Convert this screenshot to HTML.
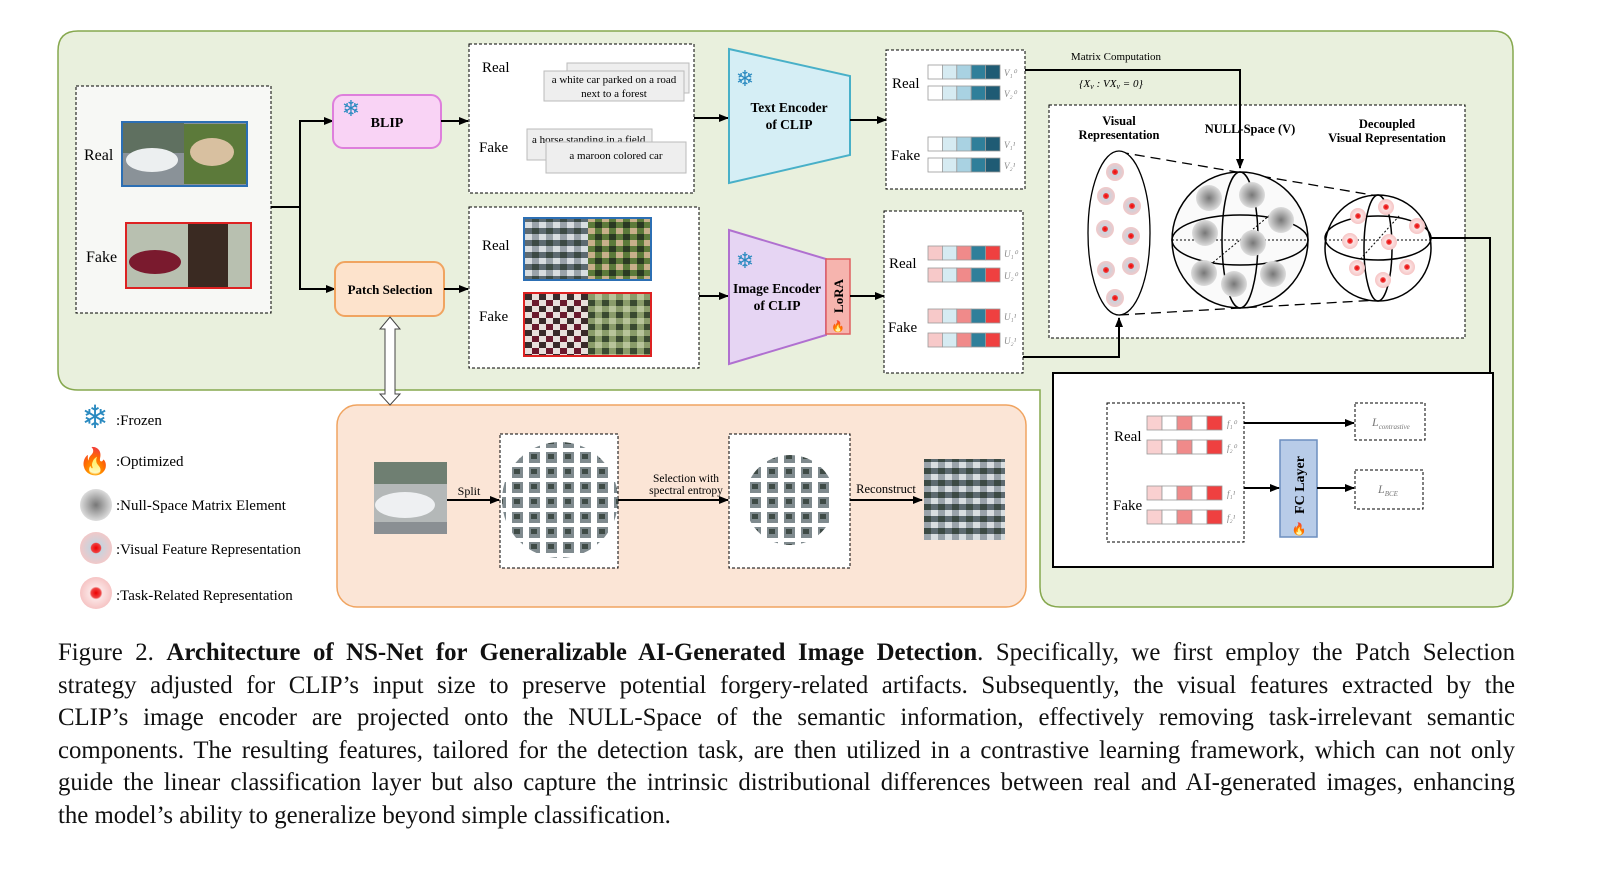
<!DOCTYPE html>
<html><head><meta charset="utf-8"><style>
html,body{margin:0;padding:0;background:#fff;width:1598px;height:878px;overflow:hidden}
svg{position:absolute;left:0;top:0}
svg text{font-family:"Liberation Serif",serif}
.cap{position:absolute;left:58px;top:637px;width:1457px;font-family:"Liberation Serif",serif;font-size:24.8px;line-height:32.5px;color:#111}
.cap div{text-align:justify;text-align-last:justify;white-space:nowrap}
.cap div.l{text-align-last:left}
</style></head><body>
<svg width="1598" height="640" viewBox="0 0 1598 640">
<defs>
<marker id="a" markerWidth="10" markerHeight="8" refX="9" refY="4" orient="auto" markerUnits="userSpaceOnUse"><path d="M0,0 L10,4 L0,8 z" fill="#000"/></marker>
<pattern id="gray" width="14" height="12" patternUnits="userSpaceOnUse"><rect width="14" height="12" fill="#9aa3aa"/><rect width="7" height="6" fill="#3c4a44"/><rect x="7" y="6" width="7" height="6" fill="#d8dde0"/><rect x="7" width="7" height="6" fill="#5d6a70"/></pattern>
<pattern id="green" width="14" height="12" patternUnits="userSpaceOnUse"><rect width="14" height="12" fill="#5c7a3a"/><rect width="7" height="6" fill="#c8b08a"/><rect x="7" y="6" width="7" height="6" fill="#2b3a22"/></pattern>
<pattern id="maroon" width="14" height="12" patternUnits="userSpaceOnUse"><rect width="14" height="12" fill="#e8e0dc"/><rect width="7" height="6" fill="#6a1a2e"/><rect x="7" y="6" width="7" height="6" fill="#3a2a2a"/></pattern>
<pattern id="lgreen" width="14" height="12" patternUnits="userSpaceOnUse"><rect width="14" height="12" fill="#8a9c6a"/><rect width="7" height="6" fill="#3a4a30"/><rect x="7" y="6" width="7" height="6" fill="#b8c49a"/></pattern>
<pattern id="scat" width="17" height="15" patternUnits="userSpaceOnUse"><rect x="2" y="2" width="11" height="11" fill="#7f8a8e"/><rect x="4" y="4" width="6" height="5" fill="#3f4b46"/></pattern>
<radialGradient id="gnull"><stop offset="0" stop-color="#777"/><stop offset="1" stop-color="#ddd"/></radialGradient>
<radialGradient id="gvis"><stop offset="0" stop-color="#e00"/><stop offset=".3" stop-color="#e44"/><stop offset=".35" stop-color="#c9d3dd"/><stop offset="1" stop-color="#f2c8c8"/></radialGradient>
<radialGradient id="gtask"><stop offset="0" stop-color="#e00"/><stop offset=".3" stop-color="#e44"/><stop offset=".4" stop-color="#fbe4e4"/><stop offset="1" stop-color="#f6c4c4"/></radialGradient>
<clipPath id="c1"><circle cx="560" cy="500" r="58"/></clipPath>
<clipPath id="c2"><circle cx="790" cy="500" r="45"/></clipPath>
<g id="vb" stroke="#999" stroke-width=".8"><rect x="928" y="0" width="14.4" height="14" fill="#fff"/><rect x="942.4" width="14.4" height="14" fill="#d6ebf2"/><rect x="956.8" width="14.4" height="14" fill="#a9d2e2"/><rect x="971.2" width="14.4" height="14" fill="#2f7f9a"/><rect x="985.6" width="14.4" height="14" fill="#1f5b74"/></g>
<g id="ub" stroke="#999" stroke-width=".8"><rect x="928" y="0" width="14.4" height="14" fill="#f7c9c9"/><rect x="942.4" width="14.4" height="14" fill="#d6ebf2"/><rect x="956.8" width="14.4" height="14" fill="#f08a8a"/><rect x="971.2" width="14.4" height="14" fill="#2f7f9a"/><rect x="985.6" width="14.4" height="14" fill="#ef4040"/></g>
<g id="fb" stroke="#999" stroke-width=".8"><rect x="1147" y="0" width="15" height="14" fill="#f9d0d0"/><rect x="1162" width="15" height="14" fill="#fff"/><rect x="1177" width="15" height="14" fill="#f08a8a"/><rect x="1192" width="15" height="14" fill="#fff"/><rect x="1207" width="15" height="14" fill="#ef4040"/></g>
</defs>
<path d="M78,31 H1493 Q1513,31 1513,51 V587 Q1513,607 1493,607 H1060 Q1040,607 1040,587 V390 H78 Q58,390 58,370 V51 Q58,31 78,31 Z" fill="#e9f0dd" stroke="#86a84e" stroke-width="1.5"/>
<rect x="76" y="86" width="195" height="227" fill="#f7f8f5" stroke="#000" stroke-dasharray="3,2"/>
<text x="84" y="160" font-size="16">Real</text>
<rect x="122" y="122" width="125" height="64" fill="#8a9298" stroke="#2c6fb4" stroke-width="2"/>
<rect x="123" y="123" width="61" height="30" fill="#5f7060"/>
<rect x="184" y="124" width="62" height="60" fill="#5c7a3a"/><ellipse cx="212" cy="152" rx="22" ry="14" fill="#d8c0a0"/>
<ellipse cx="152" cy="160" rx="26" ry="12" fill="#eceff0"/>
<text x="86" y="262" font-size="16">Fake</text>
<rect x="126" y="223" width="125" height="65" fill="#b8c0b0" stroke="#d22" stroke-width="2"/>
<ellipse cx="155" cy="262" rx="26" ry="12" fill="#7a1a2e"/><rect x="188" y="224" width="40" height="63" fill="#3a2a22"/>
<path d="M271,207 H300 V121 H333 M300,207 V289 H335" fill="none" stroke="#000" stroke-width="2"/>
<path d="M316,121 H333" stroke="#000" stroke-width="2" marker-end="url(#a)"/>
<path d="M318,289 H335" stroke="#000" stroke-width="2" marker-end="url(#a)"/>
<rect x="333" y="95" width="108" height="53" rx="10" fill="#f9d3f5" stroke="#de7fdc" stroke-width="2"/>
<text x="351" y="116" font-size="22" fill="#2a8ac0" text-anchor="middle">❄</text>
<text x="387" y="127" font-size="14" font-weight="bold" text-anchor="middle">BLIP</text>
<rect x="335" y="262" width="109" height="54" rx="10" fill="#fde3cc" stroke="#f0a460" stroke-width="2"/>
<text x="390" y="294" font-size="13" font-weight="bold" text-anchor="middle">Patch Selection</text>
<path d="M441,121 H468" stroke="#000" stroke-width="2" marker-end="url(#a)"/>
<path d="M444,289 H468" stroke="#000" stroke-width="2" marker-end="url(#a)"/>
<rect x="469" y="44" width="225" height="149" fill="#fff" stroke="#000" stroke-dasharray="3,2"/>
<text x="482" y="72" font-size="15">Real</text>
<rect x="567" y="63" width="122" height="30" fill="#eee" stroke="#bbb"/>
<rect x="544" y="71" width="140" height="30" fill="#eee" stroke="#bbb"/>
<text x="614" y="83" font-size="11" text-anchor="middle">a white car parked on a road</text>
<text x="614" y="97" font-size="11" text-anchor="middle">next to a forest</text>
<text x="479" y="152" font-size="15">Fake</text>
<rect x="527" y="129" width="125" height="31" fill="#eee" stroke="#bbb"/>
<text x="532" y="143" font-size="11">a horse standing in a field</text>
<rect x="546" y="142" width="140" height="31" fill="#eee" stroke="#bbb"/>
<text x="616" y="159" font-size="11" text-anchor="middle">a maroon colored car</text>
<rect x="469" y="207" width="230" height="161" fill="#fff" stroke="#000" stroke-dasharray="3,2"/>
<text x="482" y="250" font-size="15">Real</text>
<rect x="524" y="218" width="64" height="62" fill="url(#gray)"/><rect x="588" y="218" width="63" height="62" fill="url(#green)"/>
<rect x="524" y="218" width="127" height="62" fill="none" stroke="#2c6fb4" stroke-width="2"/>
<text x="479" y="321" font-size="15">Fake</text>
<rect x="524" y="293" width="64" height="63" fill="url(#maroon)"/><rect x="588" y="293" width="63" height="63" fill="url(#lgreen)"/>
<rect x="524" y="293" width="127" height="63" fill="none" stroke="#d22" stroke-width="2"/>
<path d="M694,118 H728" stroke="#000" stroke-width="2" marker-end="url(#a)"/>
<path d="M699,296 H728" stroke="#000" stroke-width="2" marker-end="url(#a)"/>
<path d="M729,49 L850,76 V155 L729,183 Z" fill="#d5eef5" stroke="#48b0c8" stroke-width="2"/>
<text x="745" y="86" font-size="22" fill="#2a8ac0" text-anchor="middle">❄</text>
<text x="789" y="112" font-size="13.5" font-weight="bold" text-anchor="middle">Text Encoder</text>
<text x="789" y="129" font-size="13.5" font-weight="bold" text-anchor="middle">of CLIP</text>
<path d="M729,230 L826,259 V335 L729,364 Z" fill="#e6d5f3" stroke="#b070d0" stroke-width="2"/>
<text x="745" y="268" font-size="22" fill="#2a8ac0" text-anchor="middle">❄</text>
<text x="777" y="293" font-size="13.5" font-weight="bold" text-anchor="middle">Image Encoder</text>
<text x="777" y="310" font-size="13.5" font-weight="bold" text-anchor="middle">of CLIP</text>
<rect x="826" y="259" width="24" height="75" fill="#f6b4ae" stroke="#e06060" stroke-width="1.5"/>
<text transform="translate(843,296) rotate(-90)" font-size="13" font-weight="bold" text-anchor="middle">LoRA</text>
<text x="838" y="330" font-size="11" text-anchor="middle" fill="#e85a10">🔥</text>
<path d="M850,120 H886" stroke="#000" stroke-width="2" marker-end="url(#a)"/>
<path d="M850,296 H884" stroke="#000" stroke-width="2" marker-end="url(#a)"/>
<rect x="886" y="50" width="139" height="139" fill="#fff" stroke="#000" stroke-dasharray="3,2"/>
<text x="892" y="88" font-size="15">Real</text><text x="891" y="160" font-size="15">Fake</text>
<use href="#vb" y="65"/><use href="#vb" y="86"/><use href="#vb" y="137"/><use href="#vb" y="158"/>
<g font-size="9" fill="#888" font-style="italic"><text x="1004" y="76">V₁⁰</text><text x="1004" y="97">V₂⁰</text><text x="1004" y="148">V₁¹</text><text x="1004" y="169">V₂¹</text></g>
<rect x="884" y="211" width="139" height="162" fill="#fff" stroke="#000" stroke-dasharray="3,2"/>
<text x="889" y="268" font-size="15">Real</text><text x="888" y="332" font-size="15">Fake</text>
<use href="#ub" y="246"/><use href="#ub" y="268"/><use href="#ub" y="309"/><use href="#ub" y="333"/>
<g font-size="9" fill="#888" font-style="italic"><text x="1004" y="257">U₁⁰</text><text x="1004" y="279">U₂⁰</text><text x="1004" y="320">U₁¹</text><text x="1004" y="344">U₂¹</text></g>
<text x="1116" y="60" font-size="11" text-anchor="middle">Matrix Computation</text>
<text x="1111" y="87" font-size="11" text-anchor="middle" font-style="italic">{X<tspan font-size="8" dy="2">v</tspan><tspan dy="-2"> : VX</tspan><tspan font-size="8" dy="2">v</tspan><tspan dy="-2"> = 0}</tspan></text>
<rect x="1049" y="105" width="416" height="233" fill="#fff" stroke="#000" stroke-dasharray="3,2"/>
<path d="M1025,70 H1240 V168" fill="none" stroke="#000" stroke-width="2" marker-end="url(#a)"/>
<g font-size="12.5" font-weight="bold" text-anchor="middle">
<text x="1119" y="125">Visual</text><text x="1119" y="139">Representation</text>
<text x="1250" y="133">NULL-Space (V)</text>
<text x="1387" y="128">Decoupled</text><text x="1387" y="142">Visual Representation</text></g>
<path d="M1119,152 L1378,196 M1119,315 L1378,300" stroke="#000" stroke-width="1.3" stroke-dasharray="10,6"/>
<ellipse cx="1119" cy="233" rx="31" ry="82" fill="#fff" stroke="#000" stroke-width="1.3"/>
<g fill="url(#gvis)"><circle cx="1115" cy="172" r="9"/><circle cx="1106" cy="196" r="9"/><circle cx="1132" cy="206" r="9"/><circle cx="1105" cy="229" r="9"/><circle cx="1131" cy="236" r="9"/><circle cx="1106" cy="270" r="9"/><circle cx="1131" cy="266" r="9"/><circle cx="1115" cy="298" r="9"/></g>
<circle cx="1240" cy="240" r="68" fill="#fafafa" stroke="#000" stroke-width="1.5"/>
<ellipse cx="1240" cy="240" rx="68" ry="25" fill="none" stroke="#000" stroke-width="1.5"/>
<ellipse cx="1240" cy="240" rx="18" ry="68" fill="none" stroke="#000" stroke-width="1.5"/>
<path d="M1172,240 H1308 M1210,265 L1270,215" stroke="#000" stroke-dasharray="2,2"/>
<g fill="url(#gnull)"><circle cx="1209" cy="198" r="13"/><circle cx="1252" cy="195" r="13"/><circle cx="1281" cy="220" r="13"/><circle cx="1205" cy="233" r="13"/><circle cx="1253" cy="243" r="13"/><circle cx="1204" cy="273" r="13"/><circle cx="1234" cy="284" r="13"/><circle cx="1273" cy="274" r="13"/></g>
<circle cx="1378" cy="248" r="53" fill="#fff" stroke="#000" stroke-width="1.5"/>
<ellipse cx="1378" cy="238" rx="53" ry="22" fill="none" stroke="#000" stroke-width="1.5"/>
<ellipse cx="1378" cy="248" rx="14" ry="53" fill="none" stroke="#000" stroke-width="1.5"/>
<path d="M1325,240 H1431 M1355,265 L1400,215" stroke="#000" stroke-dasharray="2,2"/>
<g fill="url(#gtask)"><circle cx="1358" cy="216" r="8"/><circle cx="1386" cy="207" r="8"/><circle cx="1417" cy="226" r="8"/><circle cx="1350" cy="241" r="8"/><circle cx="1389" cy="242" r="8"/><circle cx="1357" cy="268" r="8"/><circle cx="1407" cy="267" r="8"/><circle cx="1383" cy="280" r="8"/></g>
<path d="M1023,357 H1119 V318" fill="none" stroke="#000" stroke-width="2" marker-end="url(#a)"/>
<path d="M1431,238 H1490 V470 H1467" fill="none" stroke="#000" stroke-width="2" marker-end="url(#a)"/>
<rect x="1053" y="373" width="440" height="194" fill="#fff" stroke="#000" stroke-width="2"/>
<rect x="1107" y="403" width="137" height="139" fill="#fff" stroke="#000" stroke-dasharray="3,2"/>
<text x="1114" y="441" font-size="15">Real</text><text x="1113" y="510" font-size="15">Fake</text>
<use href="#fb" y="416"/><use href="#fb" y="440"/><use href="#fb" y="486"/><use href="#fb" y="510"/>
<g font-size="9" fill="#888" font-style="italic"><text x="1227" y="427">f₁⁰</text><text x="1227" y="451">f₂⁰</text><text x="1227" y="497">f₁¹</text><text x="1227" y="521">f₂¹</text></g>
<rect x="1280" y="440" width="37" height="97" fill="#b8cce8" stroke="#6c8ebf" stroke-width="1.5"/>
<text transform="translate(1304,485) rotate(-90)" font-size="14" font-weight="bold" text-anchor="middle">FC Layer</text>
<text x="1299" y="533" font-size="12" text-anchor="middle">🔥</text>
<rect x="1355" y="403" width="70" height="37" fill="#fff" stroke="#000" stroke-dasharray="3,2"/>
<text x="1372" y="426" font-size="12" font-style="italic" fill="#777">L<tspan font-size="7" dy="3">contrastive</tspan></text>
<rect x="1355" y="470" width="68" height="39" fill="#fff" stroke="#000" stroke-dasharray="3,2"/>
<text x="1378" y="493" font-size="12" font-style="italic" fill="#777">L<tspan font-size="7" dy="3">BCE</tspan></text>
<path d="M1244,423 H1354" stroke="#000" stroke-width="2" marker-end="url(#a)"/>
<path d="M1244,488 H1279" stroke="#000" stroke-width="2" marker-end="url(#a)"/>
<path d="M1317,488 H1354" stroke="#000" stroke-width="2" marker-end="url(#a)"/>
<text x="95" y="428" font-size="32" fill="#2a8ac0" text-anchor="middle">❄</text>
<text x="116" y="425" font-size="15">:Frozen</text>
<text x="95" y="470" font-size="26" text-anchor="middle">🔥</text>
<text x="116" y="466" font-size="15">:Optimized</text>
<circle cx="96" cy="505" r="16" fill="url(#gnull)"/>
<text x="116" y="510" font-size="15">:Null-Space Matrix Element</text>
<circle cx="96" cy="548" r="16" fill="url(#gvis)"/>
<text x="116" y="554" font-size="15">:Visual Feature Representation</text>
<circle cx="96" cy="593" r="16" fill="url(#gtask)"/>
<text x="116" y="600" font-size="15">:Task-Related Representation</text>
<rect x="337" y="405" width="689" height="202" rx="20" fill="#fbe5d6" stroke="#f0a460" stroke-width="1.5"/>
<path d="M390,317 L400,329 H395 V394 H400 L390,405 L380,394 H385 V329 H380 Z" fill="#fff" stroke="#444"/>
<rect x="374" y="462" width="73" height="72" fill="#b4b8b8"/><rect x="374" y="462" width="73" height="22" fill="#6f7f72"/>
<ellipse cx="405" cy="505" rx="30" ry="13" fill="#eef0f2"/><rect x="374" y="522" width="73" height="12" fill="#8a8f93"/>
<text x="469" y="495" font-size="12" text-anchor="middle">Split</text>
<path d="M447,500 H499" stroke="#000" stroke-width="2" marker-end="url(#a)"/>
<rect x="500" y="434" width="118" height="134" fill="#fff" stroke="#000" stroke-dasharray="3,2"/>
<rect x="500" y="440" width="118" height="120" fill="url(#scat)" clip-path="url(#c1)"/>
<text x="686" y="482" font-size="11.5" text-anchor="middle">Selection with</text>
<text x="686" y="494" font-size="11.5" text-anchor="middle">spectral entropy</text>
<path d="M618,500 H728" stroke="#000" stroke-width="2" marker-end="url(#a)"/>
<rect x="729" y="434" width="121" height="134" fill="#fff" stroke="#000" stroke-dasharray="3,2"/>
<rect x="729" y="450" width="121" height="100" fill="url(#scat)" clip-path="url(#c2)"/>
<text x="886" y="493" font-size="12.5" text-anchor="middle">Reconstruct</text>
<path d="M850,500 H922" stroke="#000" stroke-width="2" marker-end="url(#a)"/>
<rect x="924" y="459" width="81" height="81" fill="url(#gray)"/>
</svg>
<div class="cap">
<div>Figure 2. <b>Architecture of NS-Net for Generalizable AI-Generated Image Detection</b>. Specifically, we first employ the Patch Selection</div>
<div>strategy adjusted for CLIP’s input size to preserve potential forgery-related artifacts. Subsequently, the visual features extracted by the</div>
<div>CLIP’s image encoder are projected onto the NULL-Space of the semantic information, effectively removing task-irrelevant semantic</div>
<div>components. The resulting features, tailored for the detection task, are then utilized in a contrastive learning framework, which can not only</div>
<div>guide the linear classification layer but also capture the intrinsic distributional differences between real and AI-generated images, enhancing</div>
<div class="l">the model’s ability to generalize beyond simple classification.</div>
</div>
</body></html>
